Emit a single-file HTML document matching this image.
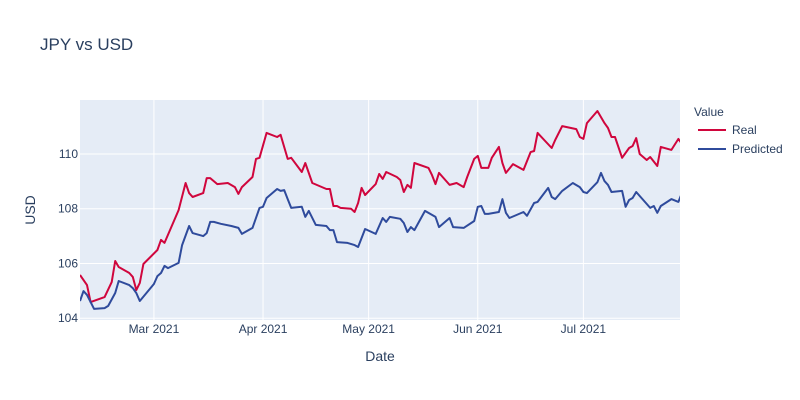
<!DOCTYPE html>
<html><head><meta charset="utf-8"><style>
body{margin:0;background:#fff;}
svg{display:block;font-family:"Liberation Sans",sans-serif;}
</style></head><body>
<svg id="chart" width="800" height="400">
<defs><clipPath id="plotclip"><rect x="80" y="100" width="600" height="220"/></clipPath></defs>
<rect x="0" y="0" width="800" height="400" fill="#fff"/>
<rect x="80" y="100" width="600" height="220" fill="#e5ecf6"/>
<g id="grid"></g>
<g id="series" clip-path="url(#plotclip)"></g>
<g id="ticks"></g>
<text x="40" y="50" font-size="17" fill="#2a3f5f">JPY vs USD</text>
<text x="380" y="361" font-size="14" fill="#2a3f5f" text-anchor="middle">Date</text>
<text x="35" y="210" font-size="14" fill="#2a3f5f" text-anchor="middle" transform="rotate(-90 35 210)">USD</text>
<g>
<text x="694" y="116" font-size="12" fill="#2a3f5f">Value</text>
<g><line x1="698" y1="130" x2="726" y2="130" stroke="#d0063d" stroke-width="2"/><text x="732" y="134" font-size="12" fill="#2a3f5f">Real</text></g>
<g><line x1="698" y1="149" x2="726" y2="149" stroke="#2f4b9c" stroke-width="2"/><text x="732" y="153" font-size="12" fill="#2a3f5f">Predicted</text></g>
</g>
</svg>
<script>
// day offsets from 2021-02-08
const realDays=[0,2,3,7,9,10,11,14,15,16,17,18,22,23,24,28,30,31,32,35,36,37,39,42,44,45,46,49,50,51,53,56,57,59,60,63,64,66,70,71,72,73,74,77,78,79,80,81,84,85,86,87,90,91,92,93,94,95,99,100,101,102,105,107,109,110,112,113,114,116,117,119,120,121,123,126,128,129,130,134,135,137,141,142,143,144,147,149,150,151,152,154,156,157,158,159,161,162,164,165,168,170,171];
const realValues=[105.58,105.21,104.59,104.77,105.32,106.09,105.87,105.65,105.51,105.03,105.29,105.98,106.49,106.86,106.75,107.95,108.94,108.57,108.43,108.57,109.12,109.12,108.90,108.94,108.79,108.54,108.79,109.16,109.82,109.86,110.77,110.62,110.70,109.82,109.86,109.34,109.67,108.94,108.72,108.72,108.10,108.10,108.03,108.00,107.88,108.21,108.76,108.50,108.90,109.27,109.09,109.34,109.16,109.05,108.61,108.87,108.76,109.67,109.49,109.23,108.90,109.31,108.87,108.94,108.79,109.16,109.82,109.93,109.49,109.49,109.86,110.26,109.67,109.31,109.63,109.42,110.07,110.11,110.77,110.22,110.51,111.02,110.91,110.62,110.55,111.13,111.57,111.13,110.95,110.62,110.62,109.86,110.22,110.29,110.58,110.00,109.78,109.89,109.56,110.26,110.15,110.55,110.37];
const predDays=[0,1,2,4,7,8,10,11,14,15,16,17,21,22,23,24,25,28,29,31,32,35,36,37,38,40,43,45,46,49,51,52,53,56,57,58,59,60,63,64,65,67,70,71,72,73,76,78,79,81,84,86,87,88,91,92,93,94,95,98,101,102,105,106,109,112,113,114,115,116,119,120,121,122,124,126,127,129,130,133,134,135,137,140,142,143,144,147,148,149,150,151,154,155,156,157,158,162,163,164,165,168,170,171];
const predValues=[104.63,104.99,104.85,104.34,104.37,104.45,104.92,105.36,105.21,105.10,104.92,104.63,105.25,105.54,105.65,105.91,105.83,106.02,106.67,107.37,107.11,107.00,107.11,107.52,107.52,107.45,107.37,107.30,107.08,107.30,108.03,108.07,108.39,108.72,108.65,108.68,108.35,108.03,108.07,107.70,107.92,107.41,107.37,107.22,107.22,106.78,106.75,106.67,106.60,107.26,107.08,107.66,107.52,107.70,107.63,107.48,107.15,107.33,107.22,107.92,107.70,107.33,107.66,107.33,107.30,107.55,108.07,108.10,107.81,107.81,107.88,108.35,107.85,107.66,107.77,107.88,107.74,108.21,108.25,108.76,108.43,108.35,108.65,108.94,108.79,108.61,108.57,108.97,109.31,109.01,108.87,108.61,108.65,108.07,108.32,108.39,108.61,108.03,108.10,107.85,108.10,108.35,108.25,108.57];
const yTicks=[104,106,108,110];
const xTickDays=[21,52,82,113,143];
const xTickLabels=["Mar 2021","Apr 2021","May 2021","Jun 2021","Jul 2021"];

const NS="http://www.w3.org/2000/svg";
const xs=d=>80+d*3.52;
const ys=v=>318.2-(v-104)*27.37;
const grid=document.getElementById('grid'),ticks=document.getElementById('ticks'),series=document.getElementById('series');
function mk(tag,attrs,parent){const e=document.createElementNS(NS,tag);for(const k in attrs)e.setAttribute(k,attrs[k]);parent.appendChild(e);return e;}
yTicks.forEach(v=>{
  const l=mk('line',{x1:80,x2:680,y1:ys(v),y2:ys(v),stroke:'#fff','stroke-width':1},grid);
  
  
  const t=mk('text',{x:78,y:ys(v)+4,'font-size':12,fill:'#2a3f5f','text-anchor':'end'},ticks);
  t.textContent=String(v);
  
  
});
xTickDays.forEach((d,i)=>{
  const l=mk('line',{x1:xs(d),x2:xs(d),y1:100,y2:320,stroke:'#fff','stroke-width':1},grid);
  
  
  const t=mk('text',{x:xs(d),y:333,'font-size':12,fill:'#2a3f5f','text-anchor':'middle'},ticks);
  t.textContent=xTickLabels[i];
  
  
});
function line(days,vals,color,name){
  const d=days.map((dd,i)=>(i?'L':'M')+xs(dd).toFixed(1)+','+ys(vals[i]).toFixed(1)).join('');
  const p=mk('path',{d:d,fill:'none',stroke:color,'stroke-width':2,'stroke-linejoin':'round'},series);
  
  
}
line(realDays,realValues,'#d0063d','real-line');
line(predDays,predValues,'#2f4b9c','predicted-line');
</script>
</body></html>
